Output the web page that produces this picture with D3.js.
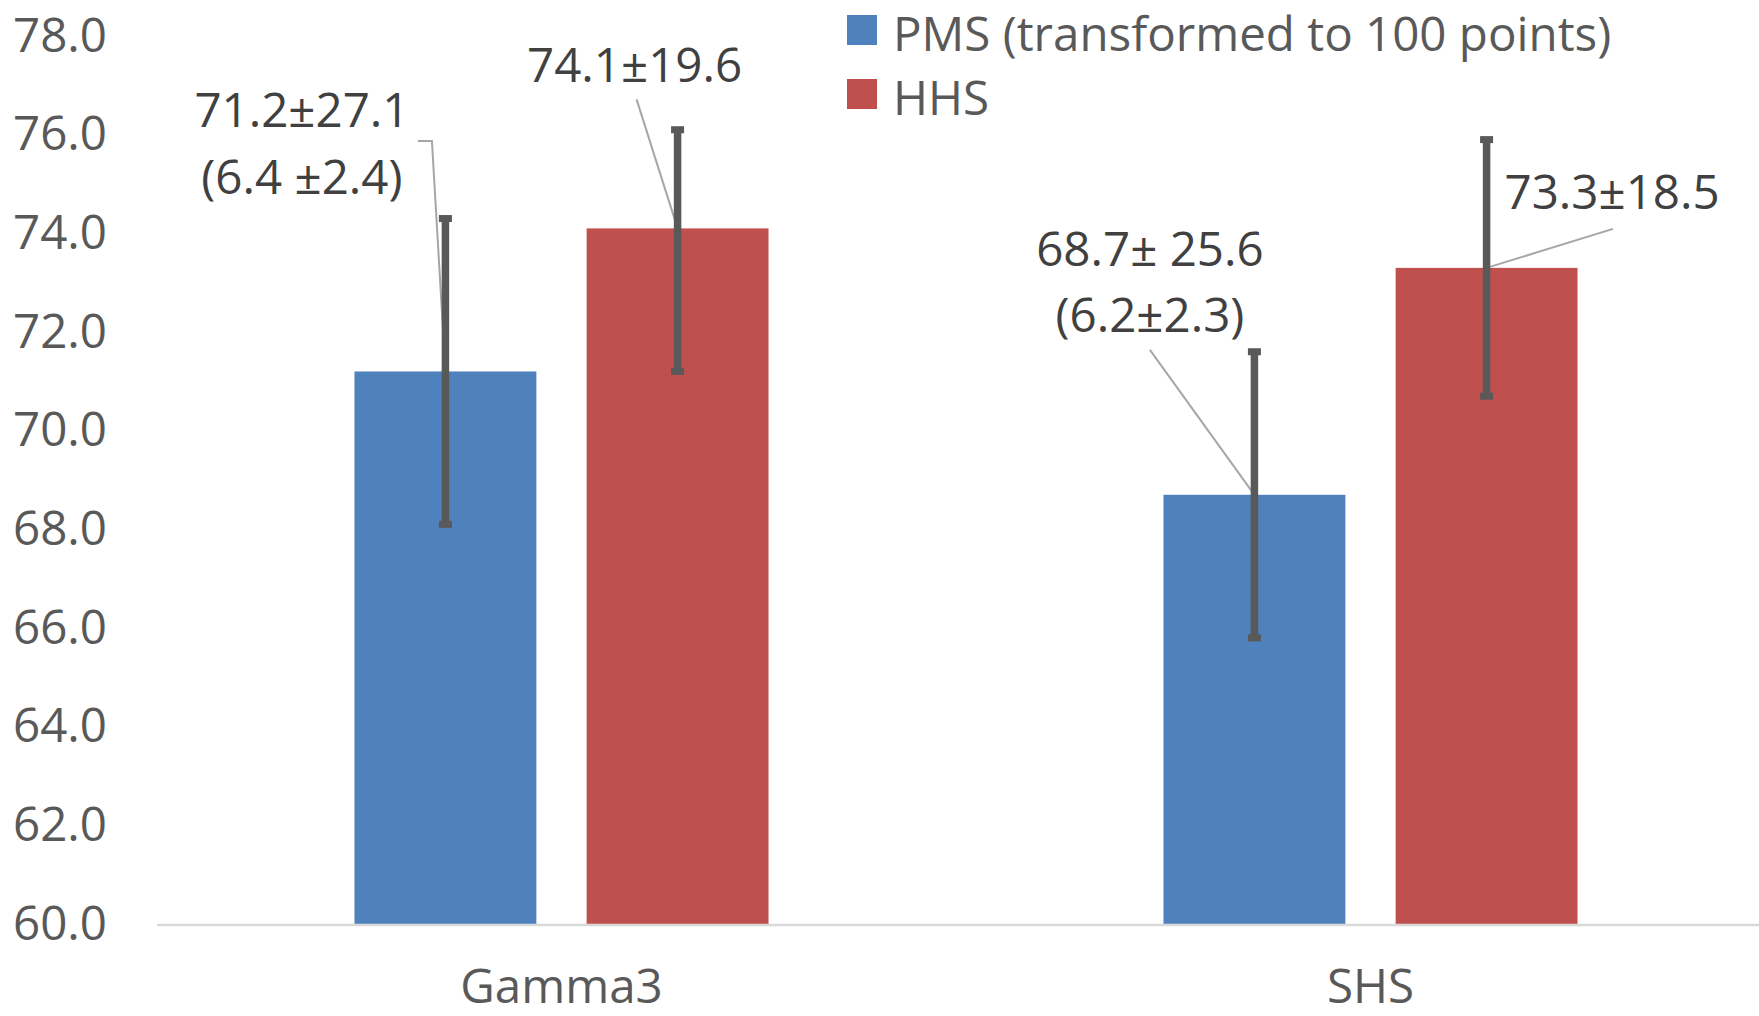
<!DOCTYPE html>
<html><head><meta charset="utf-8">
<script src="https://cdn.jsdelivr.net/npm/d3@7"></script>
<style>
html,body{margin:0;padding:0;background:#fff;}
svg{display:block;}
</style></head>
<body>
<svg id="chart" width="1759" height="1016"></svg>
<script>
// ---- data ----
const categories = ["Gamma3", "SHS"];
const seriesNames = ["PMS (transformed to 100 points)", "HHS"];
const pmsValues = [71.2, 68.7];
const hhsValues = [74.1, 73.3];
const pmsErrPlus = [3.1, 2.9];
const pmsErrMinus = [3.1, 2.9];
const hhsErrPlus = [2.0, 2.6];
const hhsErrMinus = [2.9, 2.6];
const pmsLabels = [["71.2±27.1", "(6.4 ±2.4)"], ["68.7± 25.6", "(6.2±2.3)"]];
const hhsLabels = [["74.1±19.6"], ["73.3±18.5"]];
const yTicks = [60, 62, 64, 66, 68, 70, 72, 74, 76, 78];

// ---- layout (pixel offsets for manually placed labels, relative to bar top centre) ----
const labelLayout = {
  "PMS|Gamma3": {dx: -143.5, dy: -261.5, lh: 67, lead: [[-27.5, -230.5], [-13.5, -230.5]]},
  "HHS|Gamma3": {dx: -43, dy: -163, lh: 67, lead: [[-41, -129]]},
  "PMS|SHS": {dx: -104.5, dy: -245, lh: 66, lead: [[-104.5, -145]]},
  "HHS|SHS": {dx: 125.5, dy: -75, lh: 67, lead: [[126.5, -39]]}
};

const colors = {PMS: "#4F81BD", HHS: "#C0504D"};
const font = "'Open Sans', 'Noto Sans', sans-serif";
const fs = 47.5;

const svg = d3.select("#chart");
const x = d3.scaleBand().domain(categories).range([157, 1775]).padding(0);
const y = d3.scaleLinear().domain([60, 78]).range([924, 36]);
const bw = x.bandwidth();
const x1 = d3.scaleBand().domain(["PMS", "HHS"])
  .range([bw * 0.2441, bw * 0.7559]).paddingInner(0.2165).paddingOuter(0);

const rows = [];
categories.forEach((c, i) => {
  rows.push({cat: c, s: "PMS", v: pmsValues[i], ep: pmsErrPlus[i], em: pmsErrMinus[i], lab: pmsLabels[i]});
  rows.push({cat: c, s: "HHS", v: hhsValues[i], ep: hhsErrPlus[i], em: hhsErrMinus[i], lab: hhsLabels[i]});
});

// y axis labels
const yAxis = d3.axisLeft(y).tickValues(yTicks).tickFormat(d3.format(".1f")).tickSize(0).tickPadding(0);
const gy = svg.append("g").attr("transform", "translate(107,0)").call(yAxis);
gy.select(".domain").remove();
gy.selectAll("text").attr("font-family", font).attr("font-size", fs).attr("fill", "#595959");

// bars
svg.append("g").selectAll("rect").data(rows).join("rect")
  .attr("x", d => x(d.cat) + x1(d.s))
  .attr("y", d => y(d.v))
  .attr("width", x1.bandwidth())
  .attr("height", d => y(60) - y(d.v))
  .attr("fill", d => colors[d.s]);

// x axis line
svg.append("line").attr("x1", 157).attr("x2", 1759).attr("y1", y(60) + 1).attr("y2", y(60) + 1)
  .attr("stroke", "#d9d9d9").attr("stroke-width", 2.5);

// x axis labels
const xAxis = d3.axisBottom(x).tickSize(0).tickPadding(0);
const gx = svg.append("g").attr("transform", "translate(0,986)").call(xAxis);
gx.select(".domain").remove();
gx.selectAll("text").attr("font-family", font).attr("font-size", fs).attr("fill", "#595959").attr("dy", "0.35em");

// leader lines
rows.forEach(d => {
  const L = labelLayout[d.s + "|" + d.cat];
  const cx = x(d.cat) + x1(d.s) + x1.bandwidth() / 2;
  const ty = y(d.v);
  const pts = L.lead.map(p => [cx + p[0], ty + p[1]]).concat([[cx, ty]]);
  svg.append("path").attr("d", d3.line()(pts)).attr("fill", "none")
    .attr("stroke", "#a6a6a6").attr("stroke-width", 2);
});

// error bars
const eg = svg.append("g").attr("stroke", "#595959").attr("fill", "#595959");
rows.forEach(d => {
  const cx = x(d.cat) + x1(d.s) + x1.bandwidth() / 2;
  const top = y(d.v + d.ep), bot = y(d.v - d.em);
  eg.append("line").attr("x1", cx).attr("x2", cx).attr("y1", top).attr("y2", bot).attr("stroke-width", 7.5);
  [top, bot].forEach(yy => {
    eg.append("rect").attr("x", cx - 6.5).attr("y", yy - 3.5).attr("width", 13).attr("height", 7).attr("stroke", "none");
  });
});

// data labels
rows.forEach(d => {
  const L = labelLayout[d.s + "|" + d.cat];
  const cx = x(d.cat) + x1(d.s) + x1.bandwidth() / 2;
  const ty = y(d.v);
  d.lab.forEach((t, k) => {
    svg.append("text").attr("x", cx + L.dx).attr("y", ty + L.dy + k * L.lh).attr("dy", "0.35em")
      .attr("text-anchor", "middle").attr("font-family", font).attr("font-size", fs)
      .attr("fill", "#404040").text(t);
  });
});

// legend
const legend = svg.append("g");
["PMS", "HHS"].forEach((s, i) => {
  const g = legend.append("g").attr("transform", `translate(847,${15 + i * 64})`);
  g.append("rect").attr("width", 30).attr("height", 30).attr("fill", colors[s]);
  g.append("text").attr("x", 46).attr("y", 19).attr("dy", "0.35em").attr("font-family", font)
    .attr("font-size", fs).attr("fill", "#595959").text(seriesNames[i]);
});
</script>
</body></html>
